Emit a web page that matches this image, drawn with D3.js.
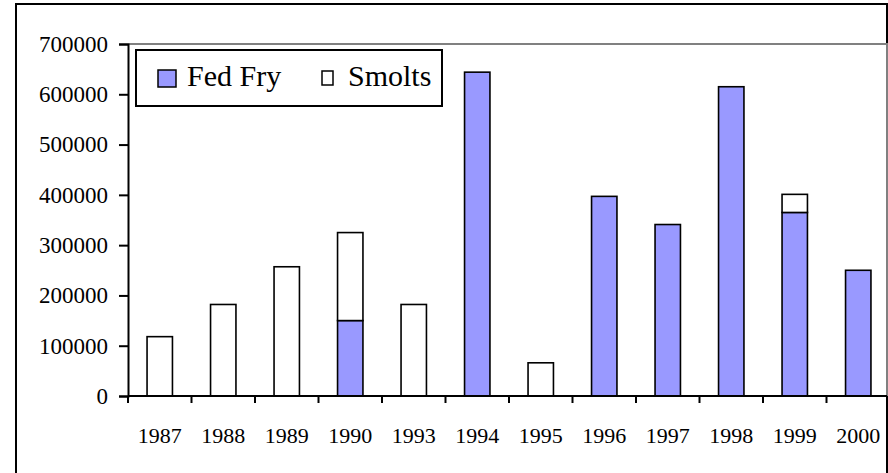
<!DOCTYPE html>
<html>
<head>
<meta charset="utf-8">
<script src="https://cdn.jsdelivr.net/npm/d3@7"></script>
<style>
  body { margin: 0; background: #fff; }
</style>
</head>
<body>
<div id="chart"></div>
<script>
const years = ['1987', '1988', '1989', '1990', '1993', '1994', '1995', '1996', '1997', '1998', '1999', '2000'];
const fedFry = [0, 0, 0, 150000, 0, 644000, 0, 397000, 341000, 615000, 365000, 250000];
const smolts = [118000, 182000, 257000, 175000, 182000, 0, 66000, 0, 0, 0, 36000, 0];
const yTicks = [0, 100000, 200000, 300000, 400000, 500000, 600000, 700000];
const seriesNames = ['Fed Fry', 'Smolts'];

const width = 888;
const height = 473;
const plot = { left: 128, top: 44, right: 890, bottom: 396 };
const serif = 'Liberation Serif, Tinos, Times New Roman, DejaVu Serif, serif';

const svg = d3.select('#chart')
  .append('svg')
  .attr('width', width)
  .attr('height', height)
  .attr('font-family', serif);

// outer chart frame (runs off the bottom of the picture)
svg.append('rect')
  .attr('x', 16).attr('y', 4)
  .attr('width', 871).attr('height', 500)
  .attr('fill', 'none')
  .attr('stroke', '#000')
  .attr('stroke-width', 2);

const x = d3.scaleBand()
  .domain(years)
  .range([plot.left, plot.right])
  .paddingInner(0.6)
  .paddingOuter(0.3);

const y = d3.scaleLinear()
  .domain([0, 700000])
  .range([plot.bottom, plot.top]);

// plot area border
svg.append('path')
  .attr('d', `M${plot.left},${plot.top}H887V${plot.bottom}`)
  .attr('fill', 'none')
  .attr('stroke', '#808080')
  .attr('stroke-width', 2);

const rows = years.map((yr, i) => ({ year: yr, fed: fedFry[i], smolts: smolts[i] }));
const stacked = d3.stack().keys(['fed', 'smolts'])(rows);
const colors = { fed: '#9999FF', smolts: '#FFFFFF' };

stacked.forEach(layer => {
  svg.append('g')
    .selectAll('rect')
    .data(layer.filter(d => d[1] > d[0]))
    .enter()
    .append('rect')
    .attr('x', d => x(d.data.year))
    .attr('y', d => y(d[1]))
    .attr('width', x.bandwidth())
    .attr('height', d => y(d[0]) - y(d[1]))
    .attr('fill', colors[layer.key])
    .attr('stroke', '#000')
    .attr('stroke-width', 1.6);
});

// y axis
const yAxis = svg.append('g')
  .attr('transform', `translate(${plot.left},0)`)
  .call(d3.axisLeft(y).tickValues(yTicks).tickSize(9).tickPadding(11).tickFormat(d3.format('d')))
  .attr('font-family', serif)
  .attr('font-size', 23);
yAxis.select('.domain').attr('stroke', '#000').attr('stroke-width', 2);
yAxis.selectAll('.tick line').attr('stroke', '#000').attr('stroke-width', 2);
yAxis.selectAll('text').attr('fill', '#000');

// x axis
const step = x.step();
const xg = svg.append('g');
xg.append('line')
  .attr('x1', plot.left).attr('x2', 887)
  .attr('y1', plot.bottom).attr('y2', plot.bottom)
  .attr('stroke', '#000').attr('stroke-width', 2);
xg.selectAll('line.tick')
  .data(years)
  .enter()
  .append('line')
  .attr('class', 'tick')
  .attr('x1', d => x(d) - step * 0.3)
  .attr('x2', d => x(d) - step * 0.3)
  .attr('y1', plot.bottom)
  .attr('y2', plot.bottom + 7)
  .attr('stroke', '#000').attr('stroke-width', 2);
xg.selectAll('text')
  .data(years)
  .enter()
  .append('text')
  .attr('x', d => x(d) + x.bandwidth() / 2)
  .attr('y', 443)
  .attr('text-anchor', 'middle')
  .attr('font-size', 22)
  .text(d => d);

// legend
const legend = svg.append('g');
legend.append('rect')
  .attr('x', 136).attr('y', 50)
  .attr('width', 306).attr('height', 56)
  .attr('fill', '#fff')
  .attr('stroke', '#000')
  .attr('stroke-width', 2);
const legendItems = [
  { name: seriesNames[0], color: colors.fed, sx: 158, sy: 70, sw: 18, sh: 17, tx: 187 },
  { name: seriesNames[1], color: colors.smolts, sx: 322, sy: 71, sw: 11, sh: 14, tx: 348 }
];
legendItems.forEach(d => {
  legend.append('rect')
    .attr('x', d.sx).attr('y', d.sy)
    .attr('width', d.sw).attr('height', d.sh)
    .attr('fill', d.color)
    .attr('stroke', '#000')
    .attr('stroke-width', 1.5);
  legend.append('text')
    .attr('x', d.tx)
    .attr('y', 86)
    .attr('font-size', 30)
    .text(d.name);
});
</script>
</body>
</html>
